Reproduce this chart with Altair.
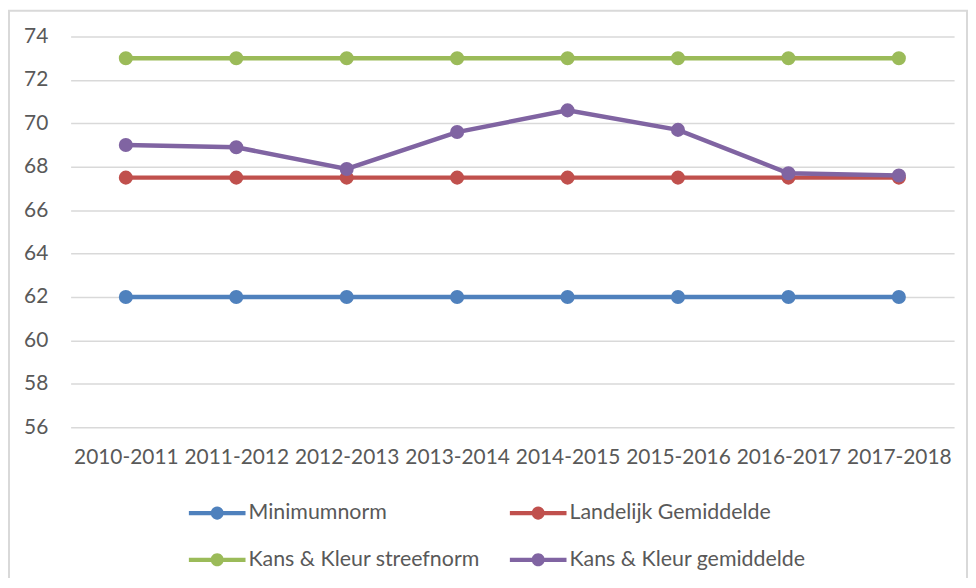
import altair as alt
import pandas as pd

years = ["2010-2011", "2011-2012", "2012-2013", "2013-2014",
         "2014-2015", "2015-2016", "2016-2017", "2017-2018"]
series_names = ["Minimumnorm", "Landelijk Gemiddelde",
                "Kans & Kleur streefnorm", "Kans & Kleur gemiddelde"]
minimumnorm = [62, 62, 62, 62, 62, 62, 62, 62]
landelijk = [67.5, 67.5, 67.5, 67.5, 67.5, 67.5, 67.5, 67.5]
streefnorm = [73, 73, 73, 73, 73, 73, 73, 73]
gemiddelde = [69.0, 68.9, 67.9, 69.6, 70.6, 69.7, 67.7, 67.6]
colors = ["#4f81bd", "#c0504d", "#9bbb59", "#8064a2"]

rows = []
for name, vals in zip(series_names, [minimumnorm, landelijk, streefnorm, gemiddelde]):
    for y, v in zip(years, vals):
        rows.append({"Jaar": y, "Serie": name, "Waarde": v})
df = pd.DataFrame(rows)

FONT = "Lato"
TXT = "#595959"

x = alt.X("Jaar:N", sort=years, title=None,
          scale=alt.Scale(paddingInner=0, paddingOuter=0),
          axis=alt.Axis(labelAngle=0, labelPadding=20, ticks=False, domain=False,
                        labelFontSize=21, labelColor=TXT, labelFont=FONT))
y = alt.Y("Waarde:Q", title=None,
          scale=alt.Scale(domain=[56, 74], nice=False, zero=False),
          axis=alt.Axis(values=list(range(56, 75, 2)), ticks=False, domain=False,
                        gridColor="#d9d9d9", gridWidth=1.5, labelPadding=23,
                        labelFontSize=21, labelColor=TXT, labelFont=FONT))

sym = ("M-1,-0.075L1,-0.075L1,0.075L-1,0.075Z "
       "M0.23,0A0.23,0.23,0,1,1,-0.23,0A0.23,0.23,0,1,1,0.23,0Z")

legend = alt.Legend(title=None, orient="none", legendX=119, legendY=451,
                    direction="horizontal", columns=2, columnPadding=30, rowPadding=8,
                    symbolType=sym, symbolSize=3249, symbolStrokeWidth=0,
                    symbolOpacity=1, labelOffset=3,
                    labelFontSize=21.5, labelColor=TXT, labelFont=FONT,
                    labelLimit=400)
color = alt.Color("Serie:N", sort=series_names,
                  scale=alt.Scale(domain=series_names, range=colors), legend=legend)

lines = alt.Chart(df).mark_line(strokeWidth=4.5).encode(x=x, y=y, color=color)

points = alt.Chart(df).mark_point(filled=True, size=200, opacity=1).encode(
    x=x, y=y, color=color)

border = alt.Chart(alt.Data(values=[{"a": 1}])).mark_rect(
    fill="transparent", stroke="#d9d9d9", strokeWidth=2, clip=False
).encode(x=alt.value(-62), x2=alt.value(902), y=alt.value(-26), y2=alt.value(570))

chart = alt.layer(lines, points, border).properties(
    width=889, height=393,
    autosize=alt.AutoSizeParams(type="none"),
    padding={"left": 63, "top": 27, "right": 14, "bottom": 150},
    background="white"
).configure_view(stroke=None)

chart.save("out.html", embed_options={"renderer": "svg", "actions": False})
